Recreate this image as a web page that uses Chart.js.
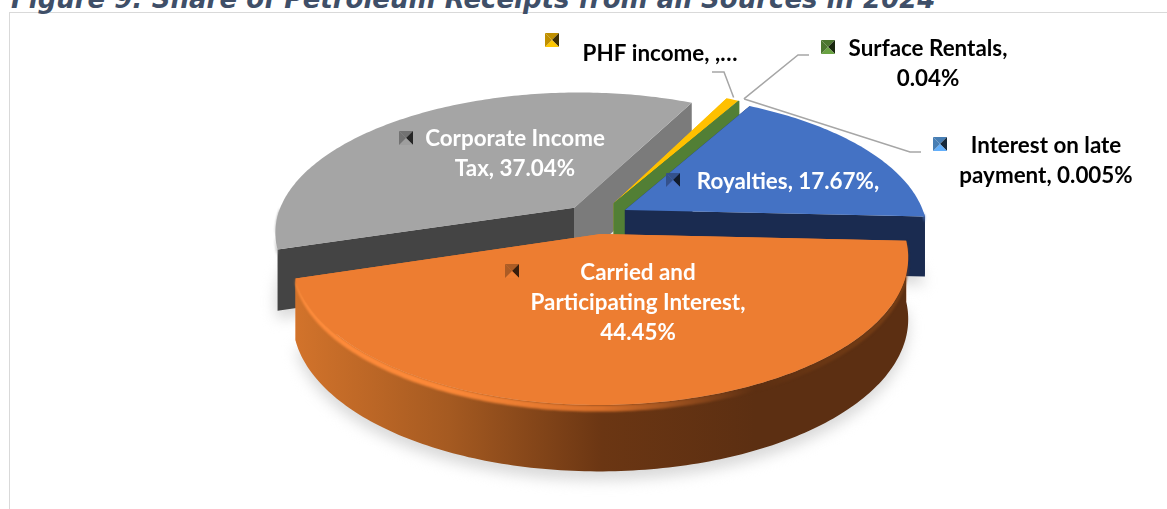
<html>
  <head>
    <title>Share of Petroleum Receipts</title>
    <style>
      body {
        margin: 0;
        background: #fff;
        overflow: hidden;
      }
      #frame {
        position: absolute;
        left: 9px;
        top: 12px;
        width: 1170px;
        height: 520px;
        border: 1.5px solid #d9d9d9;
      }
      #title {
        position: absolute;
        left: 11px;
        top: -16px;
        font: italic bold 26px 'DejaVu Sans';
        color: #3f4f68;
        white-space: nowrap;
      }
      canvas {
        position: absolute;
        left: 0;
        top: 0;
      }
    </style>
  </head>
  <body>
    <div id="frame"></div>
    <div id="title">Figure 9: Share of Petroleum Receipts from all Sources in 2024</div>
    <canvas id="chart-receipts" width="1167" height="509"></canvas>

    <script src="https://cdn.jsdelivr.net/npm/chart.js@4"></script>
    <script type="text/javascript">
      const categories = [
        'Royalties',
        'Carried and Participating Interest',
        'Corporate Income Tax',
        'PHF income',
        'Surface Rentals',
        'Interest on late payment',
      ];
      const shares = [17.67, 44.45, 37.04, 0.795, 0.04, 0.005];
      const labelLines = [
        ['Royalties, 17.67%,'],
        ['Carried and', 'Participating Interest,', '44.45%'],
        ['Corporate Income', 'Tax, 37.04%'],
        ['PHF income, ,…'],
        ['Surface Rentals,', '0.04%'],
        ['Interest on late', 'payment, 0.005%'],
      ];

      // pie seen from above: x0/y0 centre, rx/ry radii, persp how much the near side grows
      const view = { x0: 610, y0: 216, rx: 300, ry: 138, persp: 0.165, depth: 60 };

      // per slice: explosion on the disk, size, colours, text, legend key, leader line
      const slices = [
        {
          explode: [0.05, -0.043], size: 1, top: '#4472c4', cut: ['#1a2b50', '#1a2b50'], wall: ['#1a2b50', '#1a2b50'],
          bevel: '#5f8ad6', color: '#3a5a9c', text: [788, 182], textColor: '#fff', key: [673, 180],
        },
        {
          explode: [-0.03, 0.127], size: 0.99, top: '#ed7d31', cut: ['#ed7d31', '#ed7d31'],
          wall: ['#d2732b', '#a55a21', '#6b3613', '#5c2f12', '#5c2f12'],
          bevel: ['#ff8c3c', '#fb8838', '#d8702a', '#5c2f12', '#7a4016'],
          color: '#c0672a', text: [638, 273], textColor: '#fff', key: [512, 271],
        },
        {
          explode: [-0.12, -0.06], size: 0.99, top: '#a5a5a5', cut: ['#444444', '#7b7b7b'], wall: null,
          bevel: '#9a9a9a', color: '#7f7f7f', text: [515, 139], textColor: '#fff', key: [406, 138],
        },
        {
          explode: [0.013, -0.094], size: 1, top: '#ffc000', cut: ['#ffc000', '#ffc000'], wall: ['#b58800', '#b58800'],
          bevel: '#ffc000', color: '#d6a000', text: [660, 54], textColor: '#000', key: [552, 40],
          leader: [[712, 72], [724, 72]],
        },
        {
          explode: [0.013, -0.094], size: 1, top: '#548235', cut: ['#527f35', '#527f35'], wall: ['#527f35', '#527f35'],
          bevel: '#548235', color: '#548235', text: [928, 49], textColor: '#000', key: [828, 47],
          leader: [[809, 55], [798, 55]],
        },
        {
          explode: [0.013, -0.094], size: 1, top: '#5b9bd5', cut: ['#527f35', '#527f35'], wall: ['#527f35', '#527f35'],
          bevel: '#5b9bd5', color: '#4f8cc9', text: [1046, 146], textColor: '#000', key: [940, 144],
          leader: [[921, 152], [910, 152]],
        },
      ];
      const drawOrder = [2, 3, 4, 5, 0, 1];

      function project(X, Y, z) {
        const w = 1 / (1 - view.persp * Y);
        return [
          view.x0 + view.rx * X * w,
          view.y0 + view.ry * Y * w + (z || 0) * Math.sqrt(w),
        ];
      }

      function outerPoints(arc, slice, z, frontOnly) {
        const steps = Math.max(2, Math.ceil((arc.endAngle - arc.startAngle) * 60));
        const points = [];
        for (let i = 0; i <= steps; i++) {
          const a = arc.startAngle + ((arc.endAngle - arc.startAngle) * i) / steps;
          if (frontOnly && Math.sin(a) < 0) continue;
          points.push(
            project(Math.cos(a) * slice.size + slice.explode[0], Math.sin(a) * slice.size + slice.explode[1], z),
          );
        }
        return points;
      }

      function fillPolygon(ctx, points, fill) {
        ctx.beginPath();
        points.forEach(([x, y], i) => (i ? ctx.lineTo(x, y) : ctx.moveTo(x, y)));
        ctx.closePath();
        ctx.fillStyle = fill;
        ctx.fill();
      }

      function sideGradient(ctx, points, colors) {
        const xs = points.map((p) => p[0]);
        const x1 = Math.min(...xs);
        const x2 = Math.max(...xs);
        const gradient = ctx.createLinearGradient(x1, 0, x2 + 0.01, 0);
        colors.forEach((c, i) => gradient.addColorStop(i / (colors.length - 1), c));
        return gradient;
      }

      function drawSlice(ctx, arc, slice) {
        const apex = project(slice.explode[0], slice.explode[1]);
        const apexLow = project(slice.explode[0], slice.explode[1], view.depth);
        const top = outerPoints(arc, slice, 0);
        const low = outerPoints(arc, slice, view.depth);

        // the two cut faces, they meet on the vertical edge under the apex
        fillPolygon(ctx, [apex, top[top.length - 1], low[low.length - 1], apexLow], slice.cut[1]);
        fillPolygon(ctx, [apex, top[0], low[0], apexLow], slice.cut[0]);

        // outer wall, only the part that faces the viewer
        const frontTop = outerPoints(arc, slice, 0, true);
        if (slice.wall && frontTop.length > 1) {
          const wall = frontTop.concat(outerPoints(arc, slice, view.depth, true).reverse());
          fillPolygon(ctx, wall, sideGradient(ctx, wall, slice.wall));
        }

        // soft rounded edge along the front rim, then the flat top
        if (frontTop.length > 1) {
          const rim = frontTop.concat(outerPoints(arc, slice, 6, true).reverse());
          ctx.save();
          ctx.filter = 'blur(1.2px)';
          fillPolygon(ctx, rim, Array.isArray(slice.bevel) ? sideGradient(ctx, rim, slice.bevel) : slice.bevel);
          ctx.restore();
        }
        fillPolygon(ctx, [apex].concat(top), slice.top);
      }

      function drawShadow(ctx, arc, slice) {
        ctx.save();
        ctx.filter = 'blur(7px)';
        fillPolygon(
          ctx,
          [project(slice.explode[0], slice.explode[1], view.depth + 8)].concat(outerPoints(arc, slice, view.depth + 8)),
          '#d9d9d9',
        );
        ctx.restore();
      }

      // small bevelled square that the labels carry as a legend key
      function drawKey(ctx, [x, y], color) {
        const s = 7;
        const faces = [
          [[x - s, y - s], [x + s, y - s], [x, y], 0.9],
          [[x + s, y - s], [x + s, y + s], [x, y], 0.3],
          [[x + s, y + s], [x - s, y + s], [x, y], 1.25],
          [[x - s, y + s], [x - s, y - s], [x, y], 0.9],
        ];
        faces.forEach(([a, b, c, shade]) => {
          ctx.save();
          ctx.filter = `brightness(${shade})`;
          fillPolygon(ctx, [a, b, c], color);
          ctx.restore();
        });
      }

      const pie3d = {
        id: 'pie3d',
        beforeDatasetsDraw(chart) {
          const { ctx } = chart;
          const arcs = chart.getDatasetMeta(0).data;

          drawOrder.forEach((i) => drawShadow(ctx, arcs[i], slices[i]));
          drawOrder.forEach((i) => drawSlice(ctx, arcs[i], slices[i]));

          ctx.strokeStyle = '#a6a6a6';
          ctx.lineWidth = 1.5;
          slices.forEach((slice, i) => {
            if (!slice.leader) return;
            const mid = (arcs[i].startAngle + arcs[i].endAngle) / 2;
            const tip = project(Math.cos(mid) * 1.01 + slice.explode[0], Math.sin(mid) * 1.01 + slice.explode[1]);
            ctx.beginPath();
            ctx.moveTo(...slice.leader[0]);
            ctx.lineTo(...slice.leader[1]);
            ctx.lineTo(tip[0] + (i === 3 ? 0 : 4), tip[1] - 1);
            ctx.stroke();
          });

          ctx.font = 'bold 22.4px Lato';
          ctx.textAlign = 'center';
          ctx.textBaseline = 'middle';
          slices.forEach((slice, i) => {
            drawKey(ctx, slice.key, slice.color);
            ctx.fillStyle = slice.textColor;
            labelLines[i].forEach((line, n) => {
              ctx.fillText(line, slice.text[0], slice.text[1] + n * 30);
            });
          });
          return false;
        },
      };

      new Chart(document.getElementById('chart-receipts'), {
        type: 'pie',
        data: {
          labels: categories,
          datasets: [{ data: shares, backgroundColor: slices.map((s) => s.top) }],
        },
        options: {
          responsive: false,
          animation: false,
          rotation: 29.1,
          plugins: {
            legend: { display: false },
            tooltip: { enabled: false },
            title: { display: false },
          },
        },
        plugins: [pie3d],
      });
    </script>
  </body>
</html>
